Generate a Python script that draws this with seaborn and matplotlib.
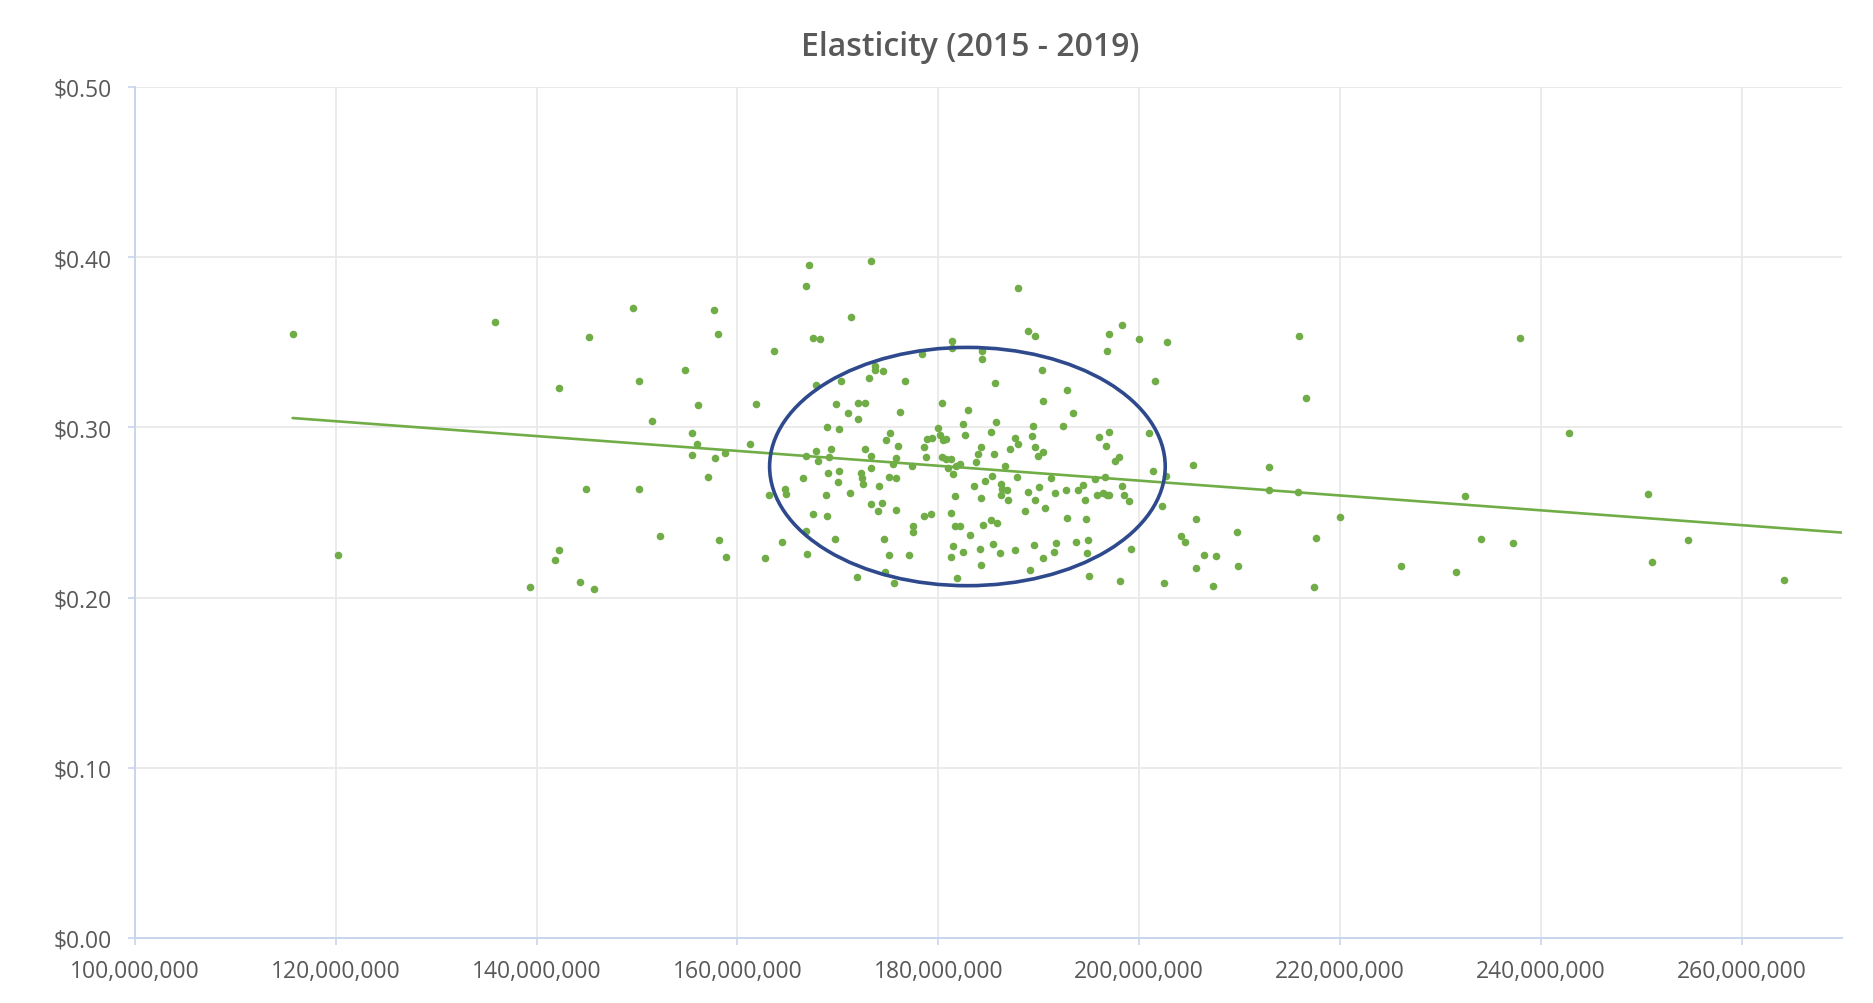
import numpy as np
import pandas as pd
import matplotlib
matplotlib.use("Agg")
import matplotlib.pyplot as plt
from matplotlib.patches import Ellipse
from matplotlib.ticker import FuncFormatter
import seaborn as sns

# ---------------- data (x in millions, y in $) ----------------
volume_m = [
    115.7, 135.9, 142.2, 120.2, 142.2, 141.8, 139.3,
    149.6, 157.7, 145.2, 158.1, 154.8, 150.2, 156.1, 161.8, 151.5, 155.5,
    156.0, 155.5, 157.8, 158.8, 161.2, 157.1, 144.9, 150.2, 152.3, 158.2,
    158.9, 162.7, 144.3, 145.7, 163.1,
    167.1, 173.3, 166.8, 171.3, 167.5, 168.2, 163.6, 173.7, 173.7, 174.5,
    173.1, 176.7, 170.3, 167.8, 169.8, 172.0, 172.7, 176.2, 171.0, 172.0,
    168.9, 170.1, 175.2, 174.8, 176.0, 172.7, 169.3, 167.8, 166.8, 168.0,
    169.1, 173.3, 175.8, 175.5, 177.4, 173.3, 169.0, 170.1, 172.3, 172.4,
    166.5, 175.1, 175.8, 170.0, 172.5, 174.1, 164.7, 164.8, 168.8, 171.2,
    173.3, 174.4, 174.0, 175.8, 167.5, 168.9, 177.5, 177.5, 166.8, 164.4,
    169.7, 174.6, 166.9, 175.1, 177.1, 174.7, 171.9, 175.6,
    187.9, 188.9, 189.6, 181.4, 181.4, 184.4, 184.4, 178.4, 190.3, 185.6,
    192.8, 180.4, 190.4, 183.0, 182.5, 185.7, 189.4, 192.4, 180.0, 182.7,
    185.2, 189.3, 178.9, 179.4, 180.2, 180.5, 180.8, 178.6, 187.6, 187.9,
    187.1, 184.3, 189.6, 184.0, 185.5, 189.9, 190.4, 178.8, 180.4, 180.8,
    181.3, 183.8, 182.2, 181.0, 181.8, 181.5, 186.6, 185.3, 187.8, 184.7,
    191.2, 183.6, 186.2, 186.3, 186.8, 188.9, 190.0, 191.6, 192.7, 181.7,
    184.3, 186.2, 186.9, 189.6, 188.6, 190.6, 178.6, 179.3, 181.3, 192.8,
    185.2, 185.8, 184.5, 181.7, 182.2, 183.2, 181.5, 182.5, 184.2, 185.4,
    186.1, 187.6, 189.5, 191.7, 191.5, 190.4, 181.3, 184.3, 189.1, 181.9,
    198.3, 197.0, 200.0, 202.8, 196.8, 201.6, 193.4, 197.0, 196.0, 201.0,
    196.7, 197.6, 198.0, 201.4, 205.4, 202.7, 195.6, 196.6, 194.4, 193.9,
    198.3, 195.8, 196.4, 196.8, 197.0, 198.5, 199.0, 194.6, 202.3, 194.7,
    205.7, 204.2, 204.6, 193.7, 194.9, 194.8, 199.2, 206.5, 207.7, 205.7,
    195.0, 198.1, 202.5, 207.4,
    215.9, 216.6, 212.9, 212.9, 215.8, 220.0, 209.7, 217.6, 209.8, 217.4,
    226.1,
    237.9, 242.8, 232.5, 234.0, 237.2, 231.6, 250.7, 254.7, 251.1, 264.2,
]
price = [
    0.355, 0.362, 0.323, 0.225, 0.228, 0.222, 0.206,
    0.370, 0.369, 0.353, 0.355, 0.334, 0.327, 0.313, 0.314, 0.304, 0.297,
    0.290, 0.284, 0.282, 0.285, 0.290, 0.271, 0.264, 0.264, 0.236, 0.234,
    0.224, 0.223, 0.209, 0.205, 0.260,
    0.3955, 0.3975, 0.3832, 0.3646, 0.3528, 0.3517, 0.3446, 0.336, 0.3335, 0.3329,
    0.329, 0.3274, 0.3272, 0.325, 0.3137, 0.3145, 0.3141, 0.3092, 0.3086, 0.3049,
    0.3004, 0.299, 0.2969, 0.2924, 0.2892, 0.2873, 0.2873, 0.2859, 0.2832, 0.2802,
    0.2826, 0.2834, 0.282, 0.2783, 0.2775, 0.2759, 0.2734, 0.2746, 0.2732, 0.2705,
    0.2705, 0.2708, 0.2705, 0.2679, 0.2667, 0.2658, 0.2638, 0.2611, 0.2603, 0.2613,
    0.2552, 0.2558, 0.2509, 0.2517, 0.2491, 0.2481, 0.2421, 0.2384, 0.2389, 0.2325,
    0.2344, 0.2342, 0.2256, 0.2249, 0.2249, 0.2151, 0.2119, 0.2084,
    0.3818, 0.3564, 0.3536, 0.3505, 0.3466, 0.345, 0.3401, 0.3434, 0.3335, 0.3262,
    0.3217, 0.3141, 0.3157, 0.31, 0.302, 0.3029, 0.301, 0.3006, 0.2996, 0.2953,
    0.2973, 0.2949, 0.293, 0.2939, 0.2957, 0.2928, 0.2932, 0.2885, 0.2939, 0.2902,
    0.2871, 0.2883, 0.2885, 0.2845, 0.2845, 0.2834, 0.2853, 0.2826, 0.2824, 0.2812,
    0.2816, 0.2796, 0.2783, 0.2761, 0.2771, 0.2728, 0.2771, 0.2714, 0.2706, 0.2687,
    0.2705, 0.2658, 0.2667, 0.2638, 0.263, 0.262, 0.2648, 0.2616, 0.2634, 0.2599,
    0.2583, 0.2601, 0.2571, 0.2571, 0.2511, 0.2526, 0.2481, 0.2491, 0.2495, 0.2468,
    0.2456, 0.244, 0.2425, 0.2421, 0.2421, 0.2366, 0.2303, 0.2268, 0.2288, 0.2315,
    0.2262, 0.2278, 0.2309, 0.2319, 0.2266, 0.2235, 0.2237, 0.219, 0.216, 0.2115,
    0.3603, 0.3548, 0.3517, 0.3501, 0.345, 0.3272, 0.3086, 0.2975, 0.2941, 0.2969,
    0.289, 0.2804, 0.2828, 0.2746, 0.2779, 0.2714, 0.2695, 0.2706, 0.2663, 0.2634,
    0.2658, 0.2603, 0.2616, 0.2601, 0.2605, 0.2603, 0.2566, 0.2571, 0.2536, 0.246,
    0.246, 0.236, 0.2327, 0.2327, 0.2339, 0.2264, 0.2288, 0.2252, 0.2247, 0.2174,
    0.2129, 0.21, 0.2084, 0.2067,
    0.3538, 0.317, 0.2765, 0.2634, 0.2622, 0.2476, 0.2386, 0.2348, 0.2186, 0.2063,
    0.2186,
    0.3528, 0.2969, 0.2597, 0.2342, 0.2323, 0.2149, 0.2611, 0.2337, 0.2211, 0.2104,
]

# linear trendline, x in millions
trend_x_m = [115.7, 270.0]
trend_y = [0.3055, 0.2382]

# highlight ellipse (annotation): centre / size in data units
ellipse_center_m = (182.9, 0.277)
ellipse_width_m = 39.4
ellipse_height = 0.140

title = "Elasticity (2015 - 2019)"
x_ticks_m = [100, 120, 140, 160, 180, 200, 220, 240, 260]
y_ticks = [0.0, 0.1, 0.2, 0.3, 0.4, 0.5]

# ---------------- styling ----------------
sns.set_theme(style="white")
plt.rcParams["font.family"] = ["Open Sans", "DejaVu Sans"]

GREEN = "#70AD47"
NAVY = "#2E4A8C"
TEXT = "#595959"
GRID = "#E8E8E8"
AXIS = "#C9D4EE"

df = pd.DataFrame({"volume": np.array(volume_m) * 1e6, "price": price})
trend = pd.DataFrame({"volume": np.array(trend_x_m) * 1e6, "price": trend_y})

fig = plt.figure(figsize=(18.74, 10.04), dpi=100)
fig.patch.set_facecolor("white")
ax = fig.add_axes([135 / 1874, 1 - 939 / 1004, (1842 - 135) / 1874, (939 - 88) / 1004])

sns.lineplot(data=trend, x="volume", y="price", ax=ax, color=GREEN,
             linewidth=1.9, zorder=3)
sns.scatterplot(data=df, x="volume", y="price", ax=ax, color=GREEN,
                s=30, linewidth=0, zorder=4)

ax.add_patch(Ellipse((ellipse_center_m[0] * 1e6, ellipse_center_m[1]),
                     ellipse_width_m * 1e6, ellipse_height,
                     fill=False, edgecolor=NAVY, linewidth=2.6, zorder=5))

ax.set_xlim(100e6, 270e6)
ax.set_ylim(0, 0.5)
ax.set_xticks(np.array(x_ticks_m) * 1e6)
ax.set_yticks(y_ticks)
ax.xaxis.set_major_formatter(FuncFormatter(lambda v, p: f"{v:,.0f}"))
ax.yaxis.set_major_formatter(FuncFormatter(lambda v, p: f"${v:.2f}"))
ax.set_xlabel("")
ax.set_ylabel("")

ax.grid(True, color=GRID, linewidth=1.2, zorder=0)
ax.set_axisbelow(True)
for side in ["top", "right"]:
    ax.spines[side].set_visible(False)
for side in ["left", "bottom"]:
    ax.spines[side].set_visible(True)
    ax.spines[side].set_color(AXIS)
    ax.spines[side].set_linewidth(1.4)

ax.tick_params(axis="both", which="major", labelsize=16.5, labelcolor=TEXT,
               color=AXIS, length=5, width=1.2, direction="out")
ax.tick_params(axis="x", pad=10)
ax.tick_params(axis="y", pad=12)
ax.tick_params(left=True, bottom=True)

fig.text(970 / 1874, 1 - 48 / 1004, title, ha="center", va="center",
         fontsize=23, fontweight="semibold", color=TEXT)

fig.savefig("out.png", dpi=100, facecolor="white")
